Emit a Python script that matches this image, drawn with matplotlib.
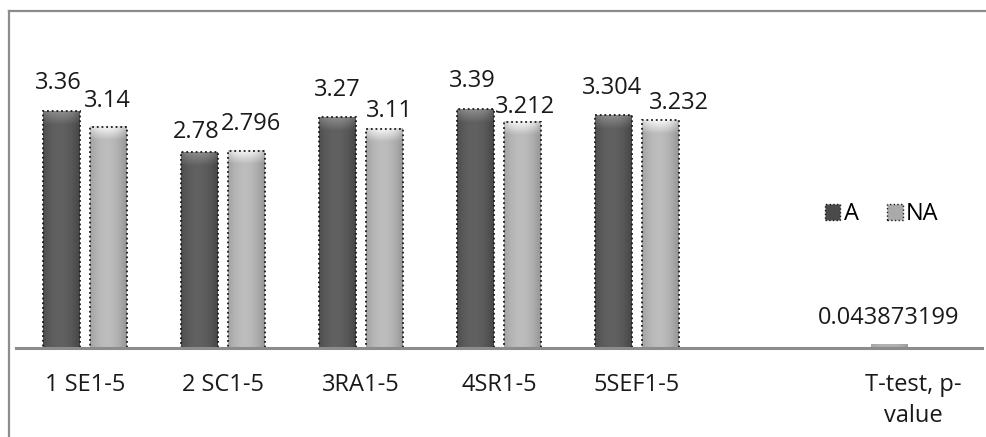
import numpy as np
import matplotlib
matplotlib.use("Agg")
import matplotlib.pyplot as plt
from matplotlib.patches import Patch
from matplotlib.lines import Line2D

plt.rcParams['font.family'] = ['Open Sans', 'DejaVu Sans']

# data
categories = ['1 SE1-5', '2 SC1-5', '3RA1-5', '4SR1-5', '5SEF1-5', '', 'T-test, p-\nvalue']
a_vals = [3.36, 2.78, 3.27, 3.39, 3.304, np.nan, 0.043873199]
na_vals = [3.14, 2.796, 3.11, 3.212, 3.232, np.nan, np.nan]
a_labels = ['3.36', '2.78', '3.27', '3.39', '3.304', '', '0.043873199']
na_labels = ['3.14', '2.796', '3.11', '3.212', '3.232', '', '']

# hand-placed data label nudges (pixels: right, up from bar top)
a_nudge = [(-3, 28), (-3, 20), (0, 27), (-3, 28), (-1, 27), (0, 0), (-1, 27)]
na_nudge = [(-1, 26), (5, 27), (5, 18), (3, 15), (18, 17), (0, 0), (0, 0)]

FS = 17

W, H = 987, 437
fig = plt.figure(figsize=(W / 100, H / 100), dpi=100)
fig.patch.set_facecolor('white')
px = 72 / 100  # points per pixel

# outer chart border (only top and left are visible)
fig.add_artist(Line2D([9 / W, 9 / W], [0, 1 - 11 / H], transform=fig.transFigure,
                      color='#8c8c8c', lw=1.6))
fig.add_artist(Line2D([9 / W, 1], [1 - 11 / H, 1 - 11 / H], transform=fig.transFigure,
                      color='#8c8c8c', lw=1.6))

ax = fig.add_axes([16 / W, 1 - 348 / H, (982 - 16) / W, (348 - 30) / H])
x = np.arange(len(categories))
width = 0.265
off = 0.17
ymax = 318 / 70.5

def shade(bar, edge_rgb, mid_rgb, cap_rgb):
    x0, y0 = bar.get_x(), bar.get_y()
    w, h = bar.get_width(), bar.get_height()
    if not np.isfinite(h) or h <= 0:
        return
    nx, ny = 64, 200
    t = np.linspace(0, 1, nx)
    prof = np.clip(1 - ((t - 0.45) / 0.55) ** 2, 0, 1)
    edge = np.array(edge_rgb)
    mid = np.array(mid_rgb)
    cap = np.array(cap_rgb)
    row = edge[None, :] + (mid - edge)[None, :] * prof[:, None]
    img = np.repeat(row[None, :, :], ny, axis=0)
    # lighter rounded cap near the top of the bar
    yy = np.linspace(h, 0, ny)
    dist_px = (h - yy) * 70.5
    capw = np.clip(1 - dist_px / 13, 0, 1)[:, None] * (0.4 + 0.6 * prof[None, :])
    img = img + (cap[None, None, :] - img) * capw[:, :, None]
    ax.imshow(np.clip(img, 0, 1), extent=[x0, x0 + w, y0, y0 + h], aspect='auto',
              interpolation='bilinear', zorder=2)

bars_a = ax.bar(x - off, a_vals, width, facecolor='none', edgecolor='#1a1a1a',
                linestyle=(0, (1, 1.6)), linewidth=1.3, zorder=3)
bars_na = ax.bar(x + off, na_vals, width, facecolor='none', edgecolor='#1a1a1a',
                 linestyle=(0, (1, 1.6)), linewidth=1.3, zorder=3)

for i, b in enumerate(bars_a):
    if i == len(bars_a) - 1:
        shade(b, (0.55, 0.55, 0.55), (0.65, 0.65, 0.65), (0.7, 0.7, 0.7))
        b.set_edgecolor('none')
    else:
        shade(b, (0.27, 0.27, 0.27), (0.38, 0.38, 0.38), (0.55, 0.55, 0.55))
for b in bars_na:
    shade(b, (0.58, 0.58, 0.58), (0.74, 0.74, 0.74), (0.97, 0.97, 0.97))

for bars, labels, nudges in [(bars_a, a_labels, a_nudge), (bars_na, na_labels, na_nudge)]:
    for b, lab, (dx, dy) in zip(bars, labels, nudges):
        if lab:
            ax.annotate(lab, (b.get_x() + b.get_width() / 2, b.get_height()),
                        xytext=(dx * px, dy * px), textcoords='offset points',
                        ha='center', va='center', fontsize=FS, color='#1a1a1a')

ax.set_xlim(-0.5, len(categories) - 0.5)
ax.set_ylim(0, ymax)
ax.set_xticks(x)
ax.set_xticklabels(categories, fontsize=FS, color='#1a1a1a', linespacing=1.4)
ax.tick_params(axis='x', length=0, pad=18)
ax.set_yticks([])
for s in ['top', 'right', 'left']:
    ax.spines[s].set_visible(False)
ax.spines['bottom'].set_color('#8c8c8c')
ax.spines['bottom'].set_linewidth(2.2)
ax.spines['bottom'].set_zorder(4)

handles = [Patch(facecolor='#4a4a4a', edgecolor='#1a1a1a', linestyle=':', label='A'),
           Patch(facecolor='#aaaaaa', edgecolor='#1a1a1a', linestyle=':', label='NA')]
fig.legend(handles=handles, loc='center', bbox_to_anchor=(882 / W, 1 - 214 / H),
           ncol=2, frameon=False, fontsize=FS, handlelength=0.65, handleheight=0.65,
           handletextpad=0.15, columnspacing=1.2)

fig.savefig('out.png', dpi=100)
